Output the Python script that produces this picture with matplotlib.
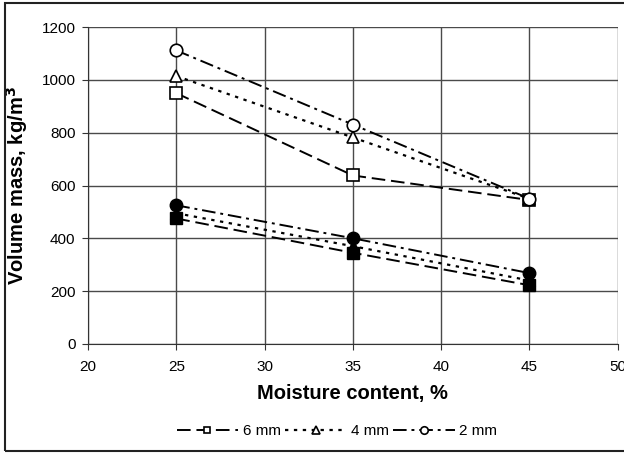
import numpy as np
import matplotlib.pyplot as plt
from matplotlib.patches import Rectangle

plt.rcParams['font.family'] = ['Liberation Sans', 'DejaVu Sans']

moisture = [25, 35, 45]

# open markers (in legend)
open_6mm = [950, 638, 545]
open_4mm = [1015, 782, 550]
open_2mm = [1112, 831, 550]

# filled markers
fill_6mm = [475, 345, 222]
fill_4mm = [495, 370, 240]
fill_2mm = [525, 400, 268]

fig = plt.figure(figsize=(6.24, 4.53), dpi=100)
ax = fig.add_axes([0.141, 0.241, 0.849, 0.699])

ls6 = (0, (7, 3))
ls4 = (0, (1.5, 2.5))
ls2 = (0, (7, 2.5, 1.5, 2.5))

ax.plot(moisture, open_6mm, color='k', ls=ls6, lw=1.4, marker='s', ms=8,
        mfc='white', mec='k', mew=1.2, label='6 mm')
ax.plot(moisture, open_4mm, color='k', ls=ls4, lw=1.6, marker='^', ms=9,
        mfc='white', mec='k', mew=1.2, label='4 mm')
ax.plot(moisture, open_2mm, color='k', ls=ls2, lw=1.4, marker='o', ms=9,
        mfc='white', mec='k', mew=1.2, label='2 mm')

ax.plot(moisture, fill_6mm, color='k', ls=ls6, lw=1.4, marker='s', ms=8, mfc='k', mec='k')
ax.plot(moisture, fill_4mm, color='k', ls=ls4, lw=1.6, marker='^', ms=9, mfc='k', mec='k')
ax.plot(moisture, fill_2mm, color='k', ls=ls2, lw=1.4, marker='o', ms=9, mfc='k', mec='k')

ax.set_xlim(20, 50)
ax.set_ylim(0, 1200)
ax.set_xticks(np.arange(20, 51, 5))
ax.set_yticks(np.arange(0, 1201, 200))
ax.grid(True, color='#4a4a4a', lw=1.0)
ax.set_axisbelow(True)
for s in ['top', 'right']:
    ax.spines[s].set_visible(False)
for s in ['left', 'bottom']:
    ax.spines[s].set_color('#333333')
ax.tick_params(direction='out', length=4, labelsize=11, color='#333333')
ax.tick_params(axis='x', pad=8)
ax.tick_params(axis='y', pad=5)

ax.set_xlabel('Moisture content, %', fontsize=14.5, fontweight='bold', labelpad=7)
ax.set_ylabel('Volume mass, kg/m$^\\mathbf{3}$', fontsize=14.5, fontweight='bold', labelpad=8)

fig.legend(loc='center', bbox_to_anchor=(0.54, 0.048), ncol=3, frameon=False,
           fontsize=11, handlelength=4, markerscale=0.6, columnspacing=0.3,
           handletextpad=0.3)

fig.patches.append(Rectangle((0.008, 0.004), 1.2, 0.99, transform=fig.transFigure,
                             fill=False, ec='#222222', lw=1.5))

fig.savefig('out.png', dpi=100)
